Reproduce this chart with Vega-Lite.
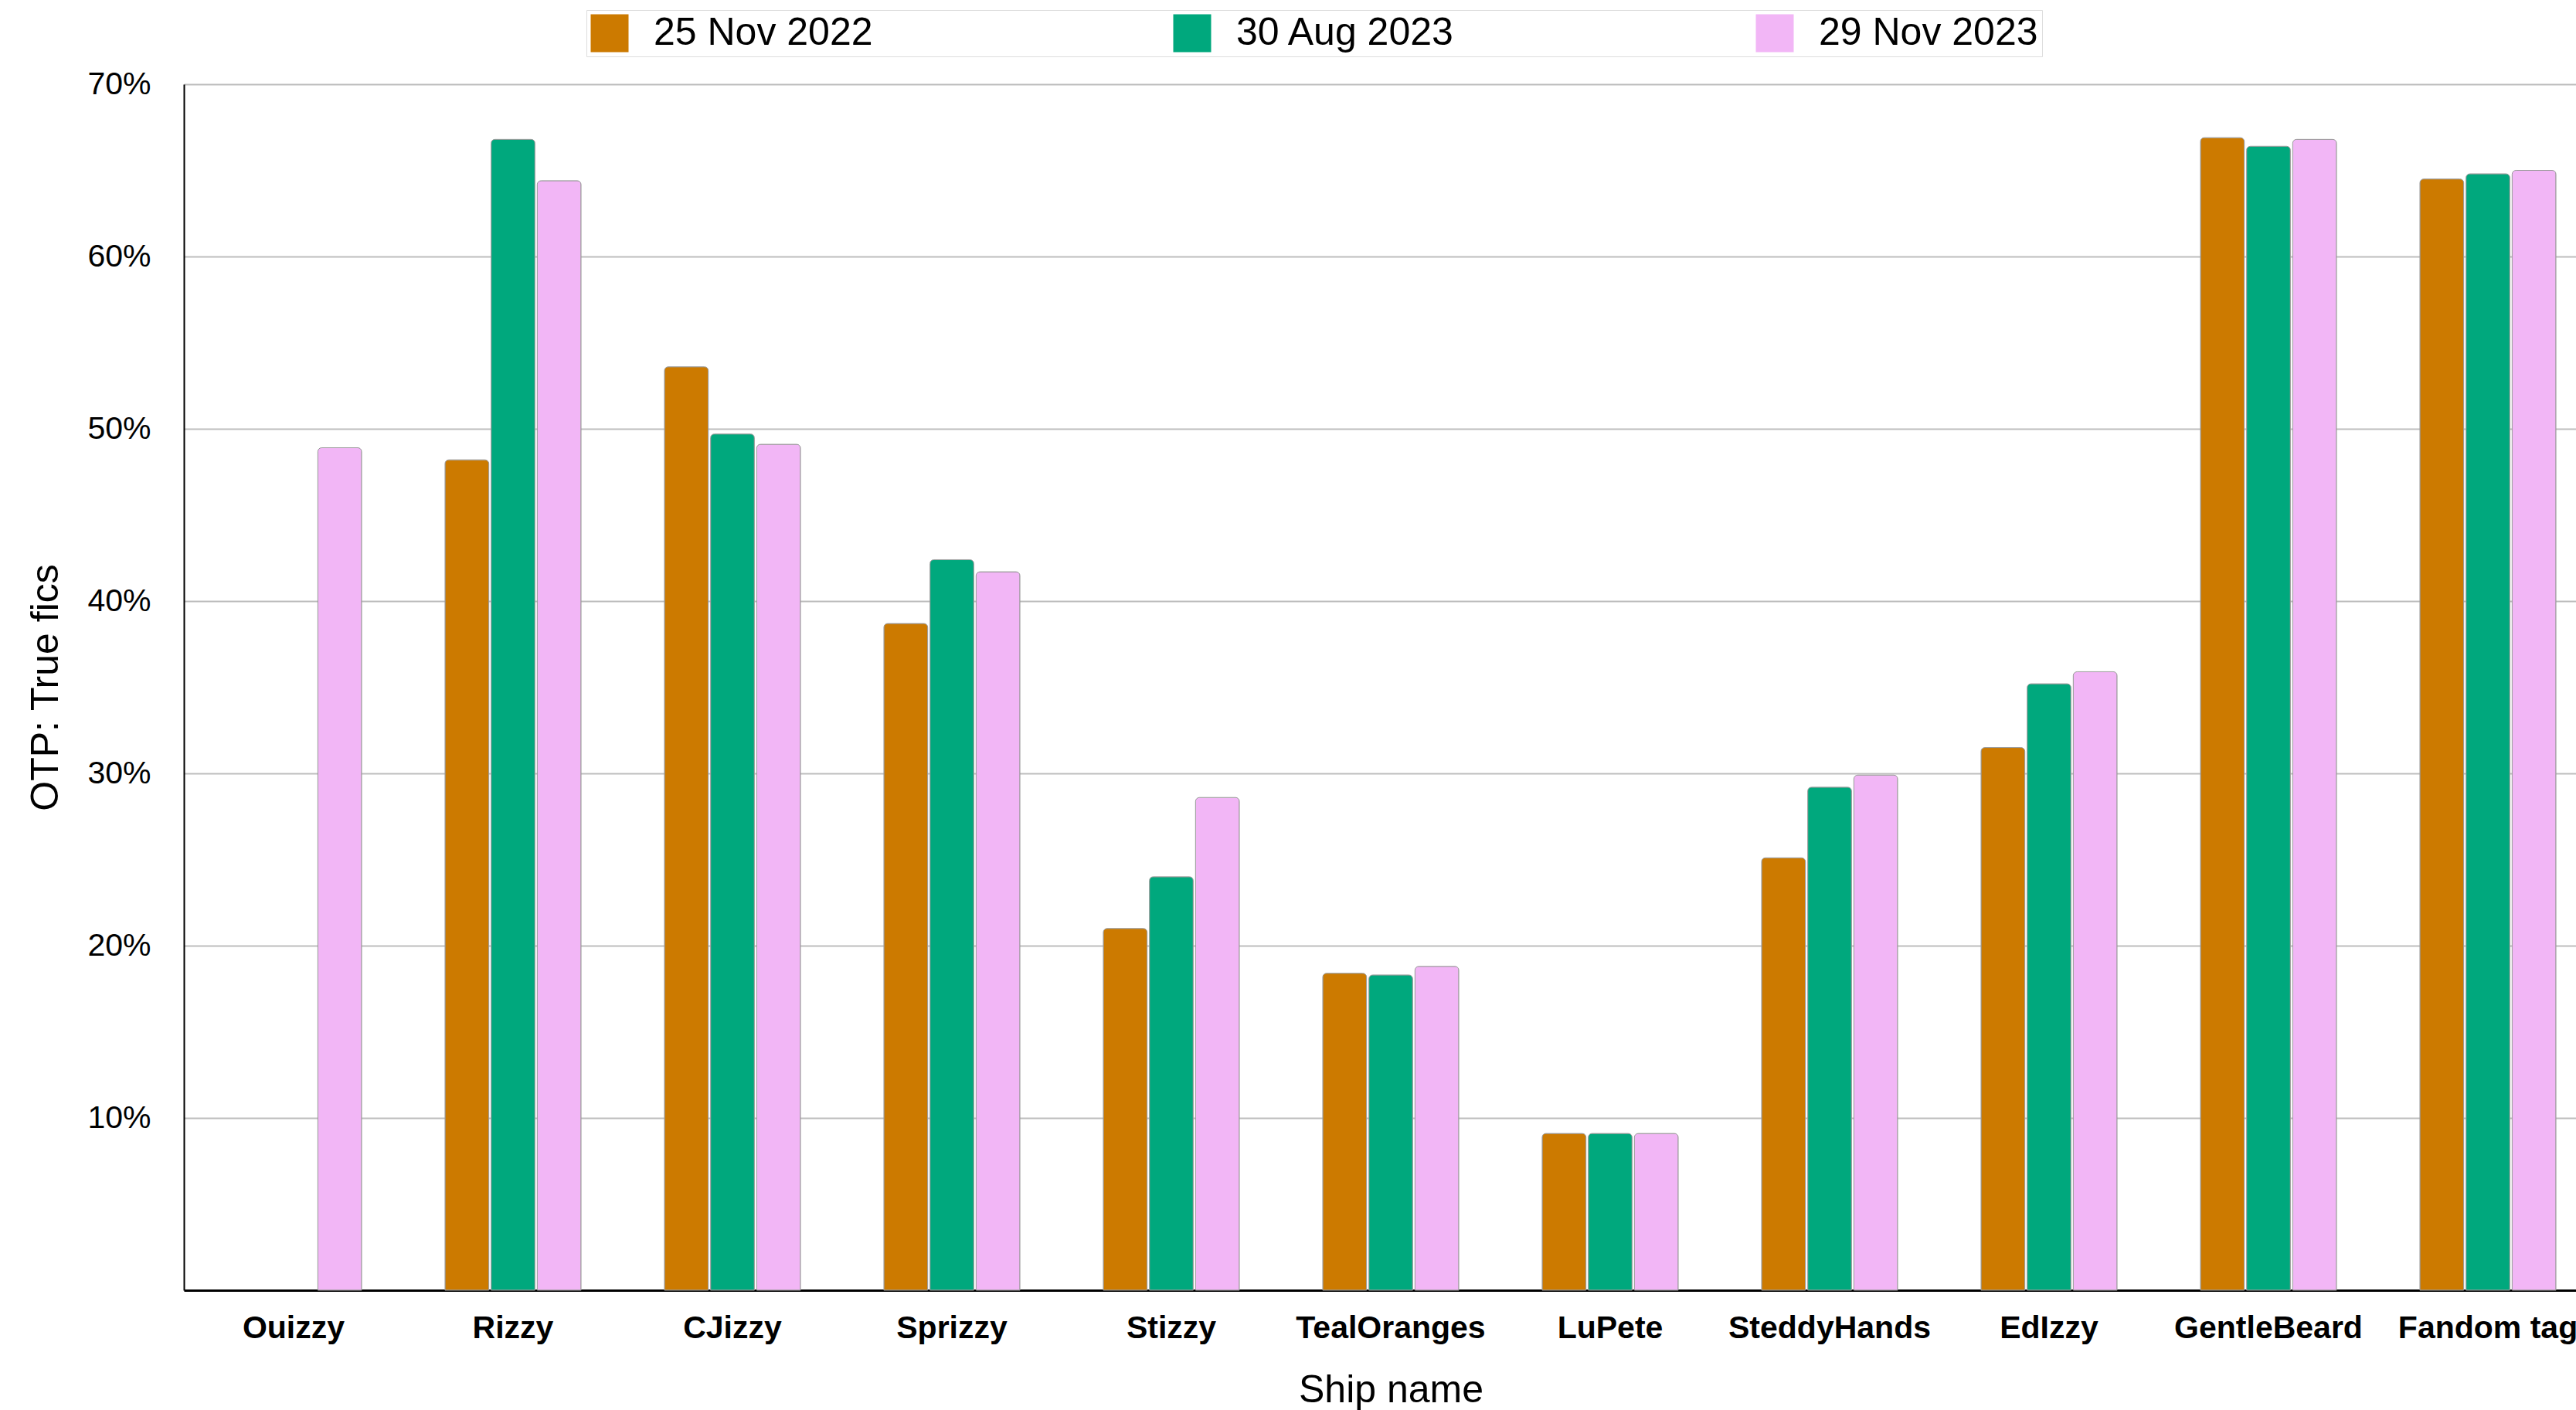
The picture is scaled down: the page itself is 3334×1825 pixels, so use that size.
{
  "$schema": "https://vega.github.io/schema/vega-lite/v6.json",
  "autosize": {"type": "none"},
  "width": 3096,
  "height": 1561,
  "padding": {"left": 238, "top": 109, "right": 0, "bottom": 155},
  "background": "white",
  "config": {
    "font": "Liberation Sans",
    "view": {"stroke": null}
  },
  "data": {
    "values": [
      {"ship": "Ouizzy", "date": "29 Nov 2023", "value": 0.489},
      {"ship": "Rizzy", "date": "25 Nov 2022", "value": 0.482},
      {"ship": "Rizzy", "date": "30 Aug 2023", "value": 0.668},
      {"ship": "Rizzy", "date": "29 Nov 2023", "value": 0.644},
      {"ship": "CJizzy", "date": "25 Nov 2022", "value": 0.536},
      {"ship": "CJizzy", "date": "30 Aug 2023", "value": 0.497},
      {"ship": "CJizzy", "date": "29 Nov 2023", "value": 0.491},
      {"ship": "Sprizzy", "date": "25 Nov 2022", "value": 0.387},
      {"ship": "Sprizzy", "date": "30 Aug 2023", "value": 0.424},
      {"ship": "Sprizzy", "date": "29 Nov 2023", "value": 0.417},
      {"ship": "Stizzy", "date": "25 Nov 2022", "value": 0.210},
      {"ship": "Stizzy", "date": "30 Aug 2023", "value": 0.240},
      {"ship": "Stizzy", "date": "29 Nov 2023", "value": 0.286},
      {"ship": "TealOranges", "date": "25 Nov 2022", "value": 0.184},
      {"ship": "TealOranges", "date": "30 Aug 2023", "value": 0.183},
      {"ship": "TealOranges", "date": "29 Nov 2023", "value": 0.188},
      {"ship": "LuPete", "date": "25 Nov 2022", "value": 0.091},
      {"ship": "LuPete", "date": "30 Aug 2023", "value": 0.091},
      {"ship": "LuPete", "date": "29 Nov 2023", "value": 0.091},
      {"ship": "SteddyHands", "date": "25 Nov 2022", "value": 0.251},
      {"ship": "SteddyHands", "date": "30 Aug 2023", "value": 0.292},
      {"ship": "SteddyHands", "date": "29 Nov 2023", "value": 0.299},
      {"ship": "EdIzzy", "date": "25 Nov 2022", "value": 0.315},
      {"ship": "EdIzzy", "date": "30 Aug 2023", "value": 0.352},
      {"ship": "EdIzzy", "date": "29 Nov 2023", "value": 0.359},
      {"ship": "GentleBeard", "date": "25 Nov 2022", "value": 0.669},
      {"ship": "GentleBeard", "date": "30 Aug 2023", "value": 0.664},
      {"ship": "GentleBeard", "date": "29 Nov 2023", "value": 0.668},
      {"ship": "Fandom tag", "date": "25 Nov 2022", "value": 0.645},
      {"ship": "Fandom tag", "date": "30 Aug 2023", "value": 0.648},
      {"ship": "Fandom tag", "date": "29 Nov 2023", "value": 0.650}
    ]
  },
  "mark": {
    "type": "bar",
    "cornerRadiusTopLeft": 5,
    "cornerRadiusTopRight": 5,
    "stroke": "#9a9a9a",
    "strokeWidth": 1
  },
  "encoding": {
    "x": {
      "field": "ship",
      "type": "nominal",
      "sort": null,
      "title": "Ship name",
      "scale": {"range": [0, 3124], "paddingInner": 0.38, "paddingOuter": 0.19},
      "axis": {
        "labelAngle": 0,
        "labelFontSize": 41,
        "labelFontWeight": "bold",
        "labelColor": "black",
        "labelPadding": 29,
        "labelLimit": 0,
        "ticks": false,
        "tickSize": 0,
        "domainColor": "black",
        "domainWidth": 3,
        "titleFontSize": 50,
        "titleFontWeight": "normal",
        "titleColor": "black",
        "titlePadding": 35,
        "grid": false
      }
    },
    "xOffset": {
      "field": "date",
      "type": "nominal",
      "sort": ["25 Nov 2022", "30 Aug 2023", "29 Nov 2023"],
      "scale": {"domain": ["25 Nov 2022", "30 Aug 2023", "29 Nov 2023"], "paddingInner": 0.05}
    },
    "y": {
      "field": "value",
      "type": "quantitative",
      "title": "OTP: True fics",
      "scale": {"domain": [0, 0.7], "nice": false},
      "axis": {
        "values": [0.1, 0.2, 0.3, 0.4, 0.5, 0.6, 0.7],
        "format": ".0%",
        "labelFontSize": 41,
        "labelColor": "black",
        "labelPadding": 43,
        "ticks": false,
        "tickSize": 0,
        "domainColor": "black",
        "domainWidth": 2,
        "gridColor": "#bdbdbd",
        "gridWidth": 2,
        "titleFontSize": 50,
        "titleFontWeight": "normal",
        "titleColor": "black",
        "titlePadding": 28
      }
    },
    "color": {
      "field": "date",
      "type": "nominal",
      "scale": {
        "domain": ["25 Nov 2022", "30 Aug 2023", "29 Nov 2023"],
        "range": ["#CC7A00", "#00A87D", "#F2B6F6"]
      },
      "legend": {
        "title": null,
        "orient": "none",
        "legendX": 521,
        "legendY": -96,
        "direction": "horizontal",
        "symbolType": "square",
        "symbolSize": 2401,
        "symbolStrokeWidth": 0,
        "labelFontSize": 50,
        "labelColor": "black",
        "labelOffset": 32,
        "labelLimit": 0,
        "columnPadding": 388,
        "padding": 5,
        "strokeColor": "#dddddd",
        "fillColor": "white"
      }
    }
  }
}
